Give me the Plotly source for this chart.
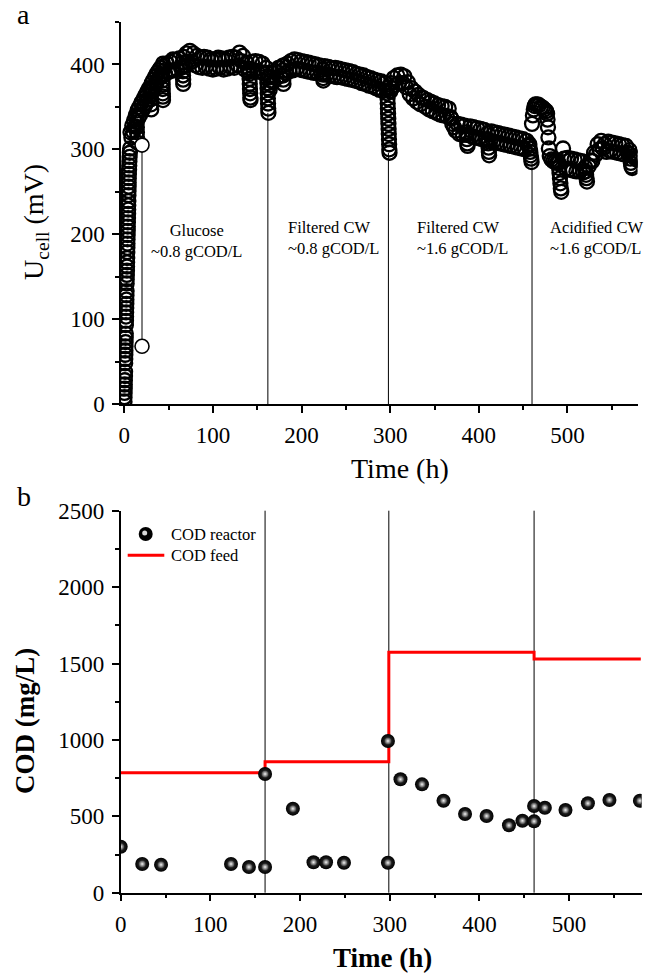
import plotly.graph_objects as go

W, H = 651, 975
FONT = "Liberation Serif"

# ---------------- panel a: cell voltage vs time ----------------
time_h = [
    0.2, 0.3, 0.4, 0.5, 0.6, 0.7, 0.8, 0.9, 1.0, 1.1, 1.2, 1.3, 1.4, 1.5, 1.6, 1.7, 1.8, 1.9, 2.0, 2.1,
    2.2, 2.3, 2.4, 2.5, 2.6, 2.7, 2.8, 2.9, 3.0, 3.1, 3.2, 3.3, 3.4, 3.5, 3.6, 3.7, 3.8, 3.9, 4.0, 4.1,
    4.2, 4.3, 4.4, 4.5, 4.6, 4.7, 4.8, 4.9, 5.0, 5.1, 5.2, 5.4, 5.6, 5.8, 6.0, 6.3, 6.6,
    7, 8, 9, 10, 11, 12, 13, 14, 14.1, 14.2, 14.3, 14.4, 14.5, 15, 16, 17, 18, 19,
    20, 21, 22, 23, 24, 25, 26, 27, 28, 29, 30, 30.1, 30.2, 30.3, 30.4, 31, 32, 33, 34, 35,
    36, 37, 38, 39, 40, 41, 42, 43, 43.1, 43.2, 43.3, 43.4, 43.5, 43.6, 43.7, 43.8,
    44, 46, 48, 50, 52, 54, 55, 56, 58, 60, 62, 64, 66, 66.1, 66.2, 66.3, 66.4, 66.5,
    67, 68, 70, 72, 74, 76, 78, 80, 82, 84, 86, 88, 90, 92, 94, 96, 98, 100,
    102, 104, 106, 108, 110, 112, 114, 116, 118, 120, 122, 124, 126, 128, 130, 132, 134, 136,
    138, 140, 141, 141.2, 141.4, 141.6, 141.8, 142, 142.2, 142.4, 144, 146, 148, 150, 152, 154, 156, 158, 160,
    161, 161.2, 161.4, 161.6, 161.8, 162, 162.2, 162.4, 162.6, 164, 165, 166, 168, 170, 172, 174, 176, 178,
    179, 179.2, 179.4, 179.6, 180, 182, 184, 186, 188, 190, 192, 194, 196, 198, 200, 202, 204, 206, 208, 210,
    212, 214, 216, 218, 220, 222, 224, 224.2, 224.4, 224.6, 226, 228, 230, 232, 234, 236, 238, 240,
    242, 244, 246, 248, 250, 252, 254, 256, 258, 260, 262, 264, 266, 268, 270, 272, 274, 276, 278, 280,
    282, 284, 286, 288, 290, 292, 294, 296, 296.5, 297, 297.2, 297.4, 297.6, 297.8, 298, 298.2, 298.4, 298.6, 298.8, 299, 299.2,
    300, 301, 302, 304, 306, 308, 310, 312, 314, 316, 318, 320, 322, 324, 326, 328, 330, 332, 334, 336,
    338, 340, 342, 344, 346, 348, 350, 352, 354, 356, 358, 360, 362, 364, 366, 368, 369, 370, 372, 374,
    376, 378, 380, 382, 384, 386, 386.3, 386.6, 387, 387.3, 390, 392, 394, 396, 398, 400, 402, 404, 406, 408,
    410, 410.3, 410.6, 411, 411.3, 411.6, 414, 416, 418, 420, 422, 424, 426, 428, 430, 432, 434, 436, 438, 440,
    442, 444, 446, 448, 450, 452, 454, 456, 457, 457.5, 458, 458.5, 459, 459.5,
    460, 461, 462, 463, 464, 466, 468, 470, 472, 474, 476, 477, 477.5, 478, 478.5, 479, 480,
    482, 484, 486, 488, 490, 490.5, 491, 491.5, 492, 492.5, 493, 495, 496, 498, 500, 502, 504, 506, 508, 510,
    512, 514, 516, 518, 520, 520.5, 521, 521.5, 522, 524, 526, 528, 530, 532, 534, 536, 538, 540,
    542, 544, 546, 548, 550, 552, 554, 556, 558, 560, 562, 564, 566, 568, 570, 570.5, 571, 571.5, 572, 573, 574, 576, 578,
]
u_cell_mv = [
    3, 8, 13, 18, 23, 28, 33, 38, 48, 53, 58, 63, 68, 73, 78, 83, 93, 98, 103, 108,
    113, 118, 123, 128, 133, 142, 147, 152, 157, 162, 167, 172, 179, 184, 189, 194, 199, 204, 209, 214,
    219, 224, 229, 234, 239, 246, 251, 256, 261, 266, 271, 276, 281, 286, 291, 296, 301,
    320, 314, 328, 321, 334, 327, 340, 338, 332, 326, 320, 314, 308, 346, 337, 350, 341, 354,
    356, 347, 360, 351, 364, 355, 368, 359, 372, 363, 371, 365, 359, 353, 347, 378, 369, 382, 373, 386,
    378, 390, 382, 393, 385, 396, 388, 392, 386, 381, 376, 371, 366, 362, 358, 401,
    398, 389, 401, 391, 403, 393, 406, 393, 405, 394, 407, 396, 402, 397, 392, 387, 382, 377,
    409, 399, 413, 403, 416, 403, 413, 399, 410, 397, 408, 396, 409, 397, 408, 395, 406, 394,
    406, 395, 408, 396, 407, 394, 406, 395, 408, 397, 409, 396, 408, 399, 414, 404, 410, 394,
    402, 391, 395, 389, 383, 377, 371, 366, 361, 358, 403, 393, 404, 392, 403, 391, 401, 389, 396,
    390, 384, 378, 372, 366, 360, 354, 348, 343, 370, 376, 385, 379, 392, 384, 396, 387, 398,
    393, 387, 382, 377, 399, 390, 401, 392, 404, 393, 406, 395, 405, 394, 404, 393, 403, 392, 402, 391,
    401, 390, 400, 390, 399, 389, 394, 388, 384, 381, 398, 388, 397, 387, 396, 386, 396, 385,
    395, 385, 394, 384, 393, 383, 392, 382, 391, 381, 389, 380, 388, 378, 387, 377, 385, 375, 384, 374,
    382, 372, 381, 370, 380, 369, 378, 372, 366, 360, 354, 348, 342, 336, 330, 324, 318, 312, 306, 300, 296,
    368, 378, 372, 384, 376, 387, 378, 388, 378, 386, 373, 379, 365, 372, 360, 368, 356, 364, 353, 361,
    360, 350, 358, 347, 356, 345, 354, 343, 352, 341, 351, 340, 350, 339, 348, 338, 336, 330, 326, 322,
    330, 318, 329, 317, 328, 320, 317, 312, 307, 304, 327, 315, 326, 314, 325, 313, 324, 312, 323, 311,
    319, 312, 307, 302, 297, 293, 321, 309, 320, 308, 319, 307, 318, 306, 317, 305, 316, 304, 315, 303,
    314, 302, 313, 301, 312, 300, 310, 304, 306, 301, 297, 293, 289, 285,
    330, 340, 347, 351, 353, 353, 352, 350, 349, 347, 345, 342, 335, 326, 314, 301, 292,
    288, 286, 285, 284, 284, 278, 272, 266, 260, 254, 250, 301, 289, 277, 290, 276, 289, 275, 288, 274,
    287, 274, 286, 273, 279, 274, 270, 266, 262, 280, 287, 286, 296, 294, 306, 300, 310, 301,
    306, 297, 309, 298, 308, 297, 307, 296, 306, 295, 305, 294, 304, 296, 299, 294, 289, 284, 280, 278, 292, 290, 288,
]
# isolated readings joined by a segment at t = 20 h
outlier_h = [20, 20]
outlier_mv = [305, 68]
# substrate changes: drop lines from the lowest reading down to the axis
change_a_h = [162, 298, 460]
change_a_low_mv = [343, 296, 285]

# ---------------- panel b: COD ----------------
cod_time_h = [0, 24, 45, 123, 143, 161, 161, 192, 215, 229, 249, 298, 298,
              312, 336, 360, 384, 408, 433, 448, 461, 461, 473, 496, 521, 545, 579]
cod_reactor = [301, 188, 183, 188, 168, 168, 777, 550, 199, 199, 196, 196, 993,
               742, 709, 602, 515, 502, 441, 471, 467, 567, 556, 541, 585, 607, 602]
feed_time_h = [0, 161, 299, 461, 580]
cod_feed = [785, 857, 1573, 1529, 1529]
change_b_h = [161, 299, 461]

phase_labels = ["Glucose<br>~0.8 gCOD/L", "Filtered CW<br>~0.8 gCOD/L",
                "Filtered CW<br>~1.6 gCOD/L", "Acidified CW<br>~1.6 gCOD/L"]
phase_label_h = [81, 182, 328, 478]
phase_label_mv = [192, 195, 195, 195]


def px_x(p):
    return p / W


def px_y(p):
    return 1 - p / H


fig = go.Figure()

# drop lines (panel a)
lx, ly = [], []
for t, u in zip(change_a_h, change_a_low_mv):
    lx += [t, t, None]
    ly += [0, u, None]
fig.add_trace(go.Scatter(x=lx, y=ly, mode="lines", line=dict(color="black", width=1),
                         xaxis="x", yaxis="y", hoverinfo="skip"))

ring = dict(symbol="circle-open", size=14, color="black", line=dict(color="black", width=2.3))
fig.add_trace(go.Scatter(x=time_h, y=u_cell_mv, mode="markers", xaxis="x", yaxis="y", marker=ring))
fig.add_trace(go.Scatter(x=outlier_h, y=outlier_mv, mode="lines+markers", xaxis="x", yaxis="y",
                         line=dict(color="black", width=1),
                         marker=dict(symbol="circle", size=14, color="white",
                                     line=dict(color="black", width=1.6))))

# panel b
fig.add_trace(go.Scatter(
    x=feed_time_h, y=cod_feed, mode="lines", line=dict(color="#ff0000", width=3, shape="hv"),
    xaxis="x2", yaxis="y2", name="COD feed",
))
fig.add_trace(go.Scatter(
    x=cod_time_h, y=cod_reactor, mode="markers", xaxis="x2", yaxis="y2", name="COD reactor",
    marker=dict(size=14, color="black", gradient=dict(type="radial", color="#3c3c3c"),
                line=dict(width=0)),
))
fig.add_trace(go.Scatter(
    x=cod_time_h, y=cod_reactor, mode="markers", xaxis="x2", yaxis="y2", hoverinfo="skip",
    marker=dict(size=7, color="#3c3c3c", gradient=dict(type="radial", color="#f4f4f4"),
                line=dict(width=0)),
))

shapes = []
for t in change_b_h:
    shapes.append(dict(type="line", xref="x2", yref="y2 domain", x0=t, x1=t, y0=0, y1=1,
                       line=dict(color="black", width=1), layer="below"))

# legend (panel b)
shapes.append(dict(type="line", xref="paper", yref="paper",
                   x0=px_x(127.7), x1=px_x(164.3), y0=px_y(555.3), y1=px_y(555.3),
                   line=dict(color="#ff0000", width=3)))
shapes.append(dict(type="circle", xref="paper", yref="paper",
                   x0=px_x(145.7 - 7), x1=px_x(145.7 + 7), y0=px_y(534 + 7), y1=px_y(534 - 7),
                   fillcolor="black", line=dict(width=0)))
shapes.append(dict(type="circle", xref="paper", yref="paper",
                   x0=px_x(144.7 - 2.5), x1=px_x(144.7 + 2.5), y0=px_y(533 + 2.5), y1=px_y(533 - 2.5),
                   fillcolor="#d8d8d8", line=dict(width=0)))

tick_font = dict(family=FONT, size=23, color="black")
axis_common = dict(showline=True, linecolor="black", linewidth=1.5, ticks="outside", ticklen=7,
                   tickwidth=1.5, tickcolor="black", showgrid=False, zeroline=False,
                   tickfont=tick_font, ticklabelstandoff=3, automargin=False)
minor_ticks = dict(ticks="outside", ticklen=4, tickwidth=1.5, tickcolor="black")

annotations = []
for txt, t, u in zip(phase_labels, phase_label_h, phase_label_mv):
    annotations.append(dict(text=txt, x=t, y=u, xref="x", yref="y", showarrow=False,
                            xanchor="center" if t < 100 else "left", yanchor="middle",
                            align="center" if t < 100 else "left",
                            font=dict(family=FONT, size=16.5, color="black")))


def paper_text(text, x, y, size, angle=0, xanchor="center"):
    return dict(text=text, x=px_x(x), y=px_y(y), xref="paper", yref="paper", showarrow=False,
                xanchor=xanchor, yanchor="middle", textangle=angle,
                font=dict(family=FONT, size=size, color="black"))


annotations += [
    paper_text("Time (h)", 400, 468, 28),
    paper_text("U<sub>cell</sub> (mV)", 36, 222, 28, angle=-90),
    paper_text("<b>Time (h)</b>", 382, 958, 27),
    paper_text("<b>COD (mg/L)</b>", 25, 721, 27, angle=-90),
    paper_text("a", 23.5, 15, 28),
    paper_text("b", 24, 496, 28),
    paper_text("COD reactor", 169, 534, 16.5, xanchor="left"),
    paper_text("COD feed", 169, 555, 16.5, xanchor="left"),
]

fig.update_layout(
    width=W, height=H, margin=dict(l=0, r=0, t=0, b=0, autoexpand=False),
    paper_bgcolor="white", plot_bgcolor="white", showlegend=False,
    xaxis=dict(domain=[px_x(121), px_x(637.5)], range=[-3.7, 579], anchor="y",
               tick0=0, dtick=100, minor=dict(dtick=50, **minor_ticks), **axis_common),
    yaxis=dict(domain=[px_y(404), px_y(22)], range=[0, 450], anchor="x",
               tick0=0, dtick=100, minor=dict(dtick=50, **minor_ticks), **axis_common),
    xaxis2=dict(domain=[px_x(120.7), px_x(641.7)], range=[0, 581], anchor="y2",
                tick0=0, dtick=100, minor=dict(dtick=50, **minor_ticks), **axis_common),
    yaxis2=dict(domain=[px_y(892.7), px_y(510.7)], range=[0, 2500], anchor="x2",
                tick0=0, dtick=500, minor=dict(dtick=250, **minor_ticks), **axis_common),
    shapes=shapes, annotations=annotations,
)

fig.write_html("out.html")
